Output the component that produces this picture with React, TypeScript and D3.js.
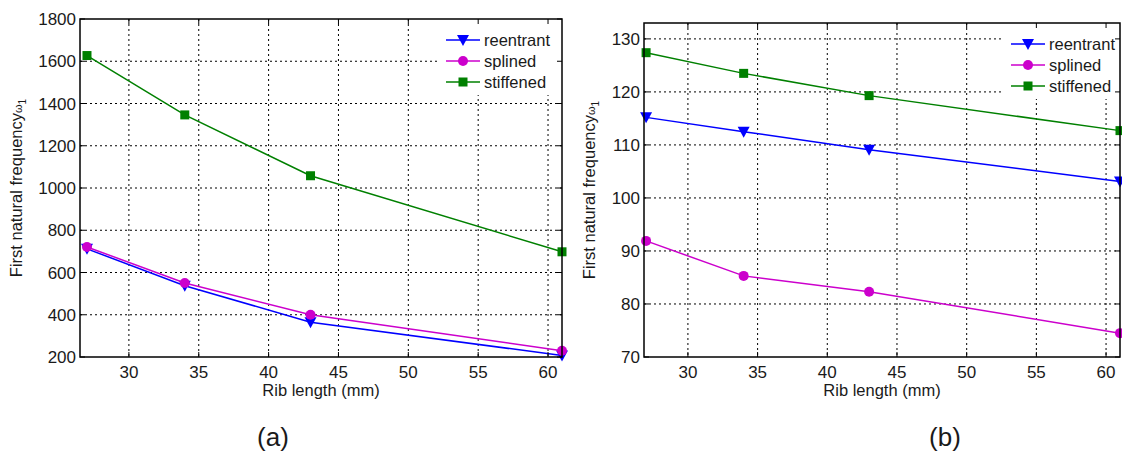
import { useEffect, useRef } from "react";
import * as d3 from "d3";

// Rib lengths (mm)
const ribLength = [27, 34, 43, 61];

// Panel (a)
const reentrantA = [712, 537, 365, 207];
const splinedA = [721, 550, 400, 230];
const stiffenedA = [1627, 1346, 1058, 698];

// Panel (b)
const reentrantB = [115.2, 112.5, 109.1, 103.1];
const splinedB = [91.9, 85.3, 82.3, 74.5];
const stiffenedB = [127.4, 123.5, 119.3, 112.7];

const seriesNames = ["reentrant", "splined", "stiffened"];
const xTicks = [30, 35, 40, 45, 50, 55, 60];
const yTicksA = [200, 400, 600, 800, 1000, 1200, 1400, 1600, 1800];
const yTicksB = [70, 80, 90, 100, 110, 120, 130];

const colors = { reentrant: "#0000ff", splined: "#cc00cc", stiffened: "#008000" };
const font = "'Liberation Sans', Arial, sans-serif";
const ink = "#1a1a1a";

type Panel = {
  left: number; right: number; top: number; bottom: number;
  xDomain: [number, number]; yDomain: [number, number];
  yTicks: number[]; series: number[][]; label: string; labelX: number;
  yLabelX: number; legendX: number; legendY: number;
};

const panels: Panel[] = [
  {
    left: 80, right: 562, top: 19, bottom: 357,
    xDomain: [26.5, 61], yDomain: [200, 1800], yTicks: yTicksA,
    series: [reentrantA, splinedA, stiffenedA], label: "(a)", labelX: 273,
    yLabelX: 22, legendX: 438, legendY: 19,
  },
  {
    left: 644, right: 1120, top: 23, bottom: 357,
    xDomain: [26.85, 61], yDomain: [70, 133], yTicks: yTicksB,
    series: [reentrantB, splinedB, stiffenedB], label: "(b)", labelX: 945,
    yLabelX: 595, legendX: 1003, legendY: 23,
  },
];

const drawMarker = (g: any, name: string, x: number, y: number) => {
  const c = (colors as any)[name];
  if (name === "reentrant") {
    g.append("path")
      .attr("d", `M${x - 6},${y - 5}L${x + 6},${y - 5}L${x},${y + 6}Z`)
      .attr("fill", c);
  } else if (name === "splined") {
    g.append("circle").attr("cx", x).attr("cy", y).attr("r", 5).attr("fill", c);
  } else {
    g.append("rect").attr("x", x - 4.5).attr("y", y - 4.5)
      .attr("width", 9).attr("height", 9).attr("fill", c);
  }
};

const drawPanel = (svg: any, p: Panel) => {
  const x = d3.scaleLinear().domain(p.xDomain).range([p.left, p.right]);
  const y = d3.scaleLinear().domain(p.yDomain).range([p.bottom, p.top]);
  const g = svg.append("g");

  // grille pointillée
  g.selectAll(".vg").data(xTicks).join("line")
    .attr("x1", d => x(d)).attr("x2", d => x(d))
    .attr("y1", p.top).attr("y2", p.bottom)
    .attr("stroke", "#000").attr("stroke-width", 1).attr("stroke-dasharray", "2,3");
  g.selectAll(".hg").data(p.yTicks.filter(d => y(d) > p.top + 1 && y(d) < p.bottom - 1)).join("line")
    .attr("x1", p.left).attr("x2", p.right)
    .attr("y1", d => y(d)).attr("y2", d => y(d))
    .attr("stroke", "#000").attr("stroke-width", 1).attr("stroke-dasharray", "2,3");

  // légende (fond blanc)
  const lg = g.append("g");
  lg.append("rect")
    .attr("x", p.legendX).attr("y", p.legendY)
    .attr("width", p.right - p.legendX).attr("height", 76)
    .attr("fill", "#fff");

  // séries
  seriesNames.forEach((name, i) => {
    const vals = p.series[i];
    const pts = ribLength.map((r, j) => [x(r), y(vals[j])] as [number, number]);
    g.append("path")
      .attr("d", d3.line()(pts))
      .attr("fill", "none")
      .attr("stroke", (colors as any)[name])
      .attr("stroke-width", 1.5);
    pts.forEach(([px, py]) => drawMarker(g, name, px, py));
  });

  // entrées de la légende
  seriesNames.forEach((name, i) => {
    const ly = p.legendY + 21 + i * 21;
    lg.append("line")
      .attr("x1", p.legendX + 8).attr("x2", p.legendX + 42)
      .attr("y1", ly).attr("y2", ly)
      .attr("stroke", (colors as any)[name]).attr("stroke-width", 1.5);
    drawMarker(lg, name, p.legendX + 25, ly);
    lg.append("text")
      .attr("x", p.legendX + 46).attr("y", ly + 6)
      .attr("font-family", font).attr("font-size", 16.5).attr("fill", ink)
      .text(name);
  });
  lg.raise();

  // cadre
  g.append("rect")
    .attr("x", p.left).attr("y", p.top)
    .attr("width", p.right - p.left).attr("height", p.bottom - p.top)
    .attr("fill", "none").attr("stroke", "#000").attr("stroke-width", 1.5);

  // graduations intérieures
  const tl = 5;
  xTicks.forEach(t => {
    g.append("line").attr("x1", x(t)).attr("x2", x(t)).attr("y1", p.bottom).attr("y2", p.bottom - tl).attr("stroke", "#000");
    g.append("line").attr("x1", x(t)).attr("x2", x(t)).attr("y1", p.top).attr("y2", p.top + tl).attr("stroke", "#000");
  });
  p.yTicks.forEach(t => {
    g.append("line").attr("x1", p.left).attr("x2", p.left + tl).attr("y1", y(t)).attr("y2", y(t)).attr("stroke", "#000");
    g.append("line").attr("x1", p.right).attr("x2", p.right - tl).attr("y1", y(t)).attr("y2", y(t)).attr("stroke", "#000");
  });

  // étiquettes des graduations
  g.selectAll(".xt").data(xTicks).join("text")
    .attr("x", d => x(d)).attr("y", p.bottom + 21)
    .attr("text-anchor", "middle")
    .attr("font-family", font).attr("font-size", 17).attr("fill", ink)
    .text(d => d);
  g.selectAll(".yt").data(p.yTicks).join("text")
    .attr("x", p.left - 4).attr("y", d => y(d) + 6)
    .attr("text-anchor", "end")
    .attr("font-family", font).attr("font-size", 17).attr("fill", ink)
    .text(d => d);

  // titres des axes
  g.append("text")
    .attr("x", (p.left + p.right) / 2).attr("y", p.bottom + 39)
    .attr("text-anchor", "middle")
    .attr("font-family", font).attr("font-size", 16.5).attr("fill", ink)
    .text("Rib length (mm)");

  const cy = (p.top + p.bottom) / 2;
  const yl = g.append("text")
    .attr("transform", `translate(${p.yLabelX},${cy}) rotate(-90)`)
    .attr("text-anchor", "middle")
    .attr("font-family", font).attr("font-size", 16.5).attr("fill", ink);
  yl.append("tspan").text("First natural frequency");
  yl.append("tspan").attr("font-size", 11).text("ω");
  yl.append("tspan").attr("font-size", 10).attr("dy", 4).text("1");

  // lettre du panneau
  g.append("text")
    .attr("x", p.labelX).attr("y", 446)
    .attr("text-anchor", "middle")
    .attr("font-family", font).attr("font-size", 26).attr("fill", ink)
    .text(p.label);
};

export default function App() {
  const ref = useRef<SVGSVGElement>(null);
  useEffect(() => {
    const svg = d3.select(ref.current);
    svg.selectAll("*").remove();
    panels.forEach(p => drawPanel(svg, p));
  }, []);
  return (
    <svg
      ref={ref}
      width={1122}
      height={457}
      style={{ position: "absolute", left: 0, top: 0, background: "#fff" }}
    />
  );
}
